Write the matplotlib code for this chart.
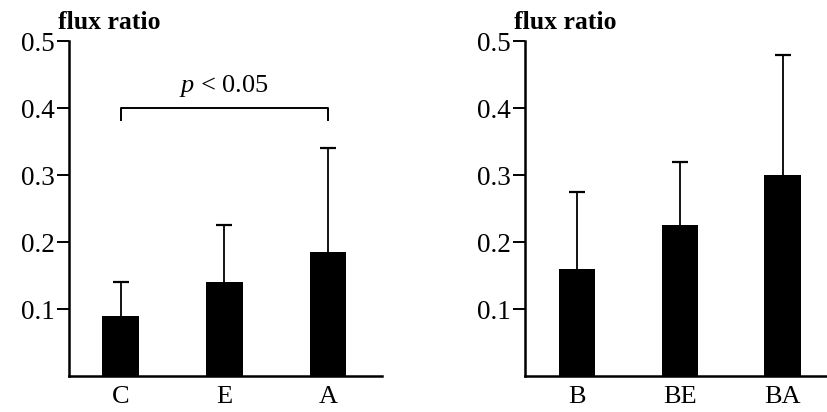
import matplotlib
matplotlib.use("Agg")
import matplotlib.pyplot as plt

plt.rcParams['font.family'] = ['Liberation Serif', 'DejaVu Serif']
plt.rcParams['mathtext.fontset'] = 'custom'
plt.rcParams['mathtext.rm'] = 'Liberation Serif'
plt.rcParams['mathtext.it'] = 'Liberation Serif:italic'

# left panel
cats1 = ["C", "E", "A"]
vals1 = [0.09, 0.14, 0.185]
errs1 = [0.05, 0.085, 0.155]

# right panel
cats2 = ["B", "BE", "BA"]
vals2 = [0.16, 0.225, 0.30]
errs2 = [0.115, 0.095, 0.18]

yticks = [0.1, 0.2, 0.3, 0.4, 0.5]
ylabel = "flux ratio"
sig_text = "$p$ < 0.05"
sig_y = 0.40


def panel(ax, cats, vals, errs, xlim):
    x = list(range(len(cats)))
    ax.bar(x, vals, width=0.355, color="black")
    eb = ax.errorbar(x, vals, yerr=[[0] * len(errs), errs], fmt="none",
                     ecolor="black", elinewidth=1.3, capsize=5.8, capthick=1.6)
    # only the upper cap is wanted
    for cl in eb[1]:
        if list(cl.get_ydata()) == list(vals):
            cl.set_visible(False)
    ax.set_xlim(*xlim)
    ax.set_ylim(0, 0.5)
    ax.set_yticks(yticks)
    ax.set_yticklabels(["%.1f" % t for t in yticks])
    ax.set_xticks(x)
    ax.set_xticklabels(cats)
    ax.tick_params(axis="y", direction="out", length=9, width=1.4,
                   labelsize=19.5, pad=1)
    ax.tick_params(axis="x", length=0, labelsize=19, pad=7)
    for s in ["top", "right"]:
        ax.spines[s].set_visible(False)
    for s in ["left", "bottom"]:
        ax.spines[s].set_linewidth(1.8)
    ax.annotate(ylabel, xy=(0, 1), xycoords="axes fraction",
                xytext=(-8, 9), textcoords="offset points", fontsize=18.5,
                fontweight="bold", ha="left", va="baseline")


fig = plt.figure(figsize=(8.28, 4.12), dpi=100)
ax1 = fig.add_axes([0.0833, 0.087, 0.378, 0.813])
ax2 = fig.add_axes([0.634, 0.087, 0.366, 0.813])

panel(ax1, cats1, vals1, errs1, (-0.50, 2.52))
panel(ax2, cats2, vals2, errs2, (-0.505, 2.44))

# significance bracket C vs A
ax1.plot([0, 0, 2, 2], [sig_y - 0.017, sig_y, sig_y, sig_y - 0.017],
         color="black", lw=1.4)
ax1.text(1, sig_y + 0.014, sig_text, ha="center", va="bottom", fontsize=19)

fig.savefig("out.png", dpi=100)
